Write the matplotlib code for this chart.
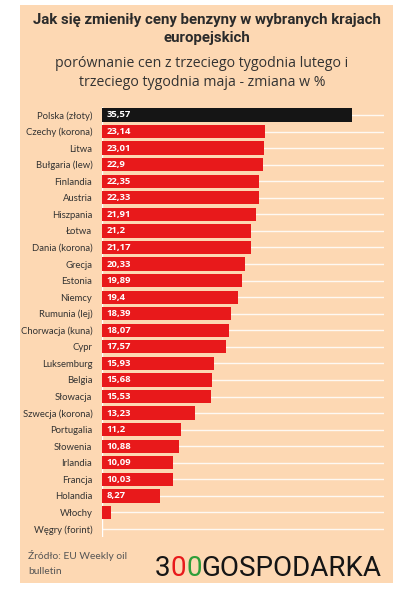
import matplotlib.pyplot as plt
from matplotlib.patches import Rectangle

# Data
countries = ["Polska (złoty)", "Czechy (korona)", "Litwa", "Bułgaria (lew)", "Finlandia",
             "Austria", "Hiszpania", "Łotwa", "Dania (korona)", "Grecja", "Estonia",
             "Niemcy", "Rumunia (lej)", "Chorwacja (kuna)", "Cypr", "Luksemburg", "Belgia",
             "Słowacja", "Szwecja (korona)", "Portugalia", "Słowenia", "Irlandia",
             "Francja", "Holandia", "Włochy", "Węgry (forint)"]
changes = [35.57, 23.14, 23.01, 22.9, 22.35, 22.33, 21.91, 21.2, 21.17, 20.33, 19.89,
           19.4, 18.39, 18.07, 17.57, 15.93, 15.68, 15.53, 13.23, 11.2, 10.88, 10.09,
           10.03, 8.27, 1.3, 0.0]
value_labels = ["35,57", "23,14", "23,01", "22,9", "22,35", "22,33", "21,91", "21,2",
                "21,17", "20,33", "19,89", "19,4", "18,39", "18,07", "17,57", "15,93",
                "15,68", "15,53", "13,23", "11,2", "10,88", "10,09", "10,03", "8,27", "", ""]

title = "Jak się zmieniły ceny benzyny w wybranych krajach\neuropejskich"
subtitle = "porównanie cen z trzeciego tygodnia lutego i\ntrzeciego tygodnia maja - zmiana w %"
source = "Źródło: EU Weekly oil\nbulletin"

peach = '#FDD8B3'
red = '#E8191B'
dark = '#151515'

W, H = 400, 592
fig = plt.figure(figsize=(W / 100, H / 100), dpi=100)
fig.patch.set_facecolor('white')

# peach card
fig.patches.append(Rectangle((20 / W, 1 - 583 / H), 373 / W, 578 / H,
                             transform=fig.transFigure, facecolor=peach,
                             edgecolor='none', zorder=-10))

n = len(countries)
row_h = 16.56
top = 115 - row_h / 2
ax = fig.add_axes([102 / W, 1 - (top + n * row_h) / H, 282 / W, n * row_h / H])
ax.patch.set_alpha(0)

ypos = list(range(n))
colors = [dark] + [red] * (n - 1)
ax.barh(ypos, changes, height=0.8, color=colors, zorder=3)
for y in ypos:
    ax.axhline(y, color='white', lw=1.0, alpha=0.85, zorder=1)
ax.axvline(0, color='white', lw=1.0, zorder=2)

for y, v, lab in zip(ypos, changes, value_labels):
    if lab:
        ax.text(0.6, y, lab, color='white', fontsize=6.8, fontweight='bold',
                family='Open Sans', va='center', ha='left', zorder=4)

ax.set_xlim(0, 40.1)
ax.set_ylim(n - 0.5, -0.5)
ax.set_yticks(ypos)
ax.set_yticklabels(countries, family='Lato', fontsize=6.8, color='#333333')
ax.tick_params(axis='y', length=0, pad=7)
ax.set_xticks([])
for s in ax.spines.values():
    s.set_visible(False)

# titles
fig.text(207 / W, 1 - 29 / H, title, ha='center', va='center', fontsize=10.8,
         fontweight='bold', family='Roboto', color='#2b2b2b', linespacing=1.3)
fig.text(202 / W, 1 - 73 / H, subtitle, ha='center', va='center', fontsize=10.2,
         family='Open Sans', color='#333333', linespacing=1.45)

fig.text(28 / W, 1 - 563 / H, source, ha='left', va='center', fontsize=7.4,
         family='Lato', color='#555555', linespacing=1.75)

# logo: coloured pieces chained one after another
parts = [("3", dark), ("0", red), ("0", '#2E9E3A'), ("GOSPODARKA", dark)]
prev = fig.text(155 / W, 1 - 576 / H, parts[0][0], ha='left', va='baseline',
                fontsize=20, family='Roboto', color=parts[0][1])
for txt, col in parts[1:]:
    prev = ax.annotate(txt, xy=(1, 0), xycoords=prev, xytext=(0, 0),
                       textcoords='offset points', ha='left', va='bottom',
                       fontsize=20, family='Roboto', color=col,
                       annotation_clip=False)

fig.savefig('out.png', dpi=100, facecolor='white')
